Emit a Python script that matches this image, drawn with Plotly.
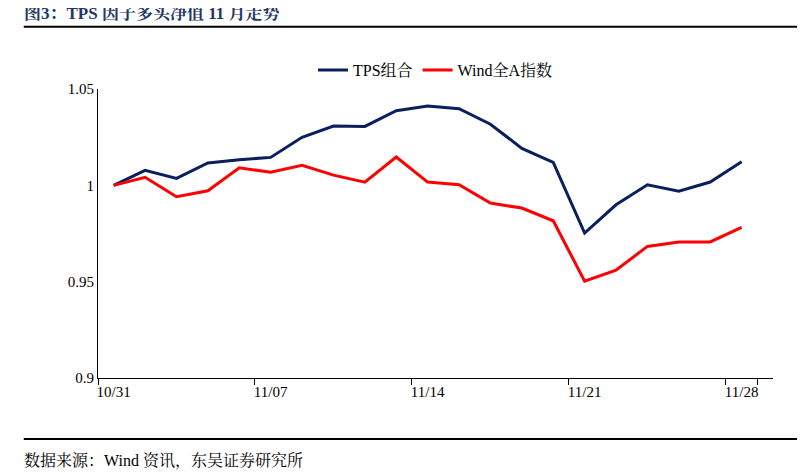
import plotly.graph_objects as go

dates = ["10/31","11/01","11/02","11/03","11/04","11/07","11/08","11/09","11/10","11/11",
         "11/14","11/15","11/16","11/17","11/18","11/21","11/22","11/23","11/24","11/25","11/28"]
tps = [1.000,1.0078,1.0036,1.0116,1.0133,1.0145,1.0249,1.0308,1.0306,1.0387,1.0412,1.0398,
       1.0317,1.0192,1.0119,0.9752,0.9899,1.0003,0.9969,1.0017,1.0123]
wind = [1.000,1.0042,0.9941,0.9972,1.0091,1.0068,1.0104,1.0053,1.0016,1.0147,1.0017,1.0003,
        0.9908,0.9882,0.9816,0.9503,0.9560,0.9683,0.9706,0.9706,0.9782]
tick_labels = ["10/31","11/07","11/14","11/21","11/28"]
yticks = [0.9, 0.95, 1.0, 1.05]
ytick_text = ["0.9", "0.95", "1", "1.05"]

font = "Times New Roman, Liberation Serif, Noto Serif CJK SC, Noto Sans CJK SC, serif"
fig = go.Figure()
fig.add_trace(go.Scatter(x=dates, y=tps, mode="lines", name="TPS组合",
                         line=dict(color="#0a1f5c", width=3)))
fig.add_trace(go.Scatter(x=dates, y=wind, mode="lines", name="Wind全A指数",
                         line=dict(color="#ff0000", width=3)))
fig.update_layout(
    width=805, height=476, paper_bgcolor="white", plot_bgcolor="white",
    margin=dict(l=90, r=40, t=81, b=106),
    font=dict(family=font, size=15, color="black"),
    legend=dict(orientation="h", x=0.5, xanchor="center", y=1.065, yanchor="middle",
                font=dict(size=16)),
    xaxis=dict(type="category", tickmode="array", tickvals=tick_labels, ticktext=tick_labels,
               tickson="boundaries", ticks="outside", ticklen=6, tickcolor="black",
               tickangle=0, showline=True, linecolor="black", linewidth=1, showgrid=False,
               range=[-0.5, 21.0]),
    yaxis=dict(range=[0.9, 1.05], tickvals=yticks, ticktext=ytick_text,
               showline=True, linecolor="black", linewidth=1, showgrid=False,
               ticks="", zeroline=False),
    shapes=[
        dict(type="line", xref="paper", yref="paper", x0=-0.11, x1=1.05, y0=1.215, y1=1.215,
             line=dict(color="black", width=2)),
        dict(type="line", xref="paper", yref="paper", x0=-0.11, x1=1.05, y0=-0.211, y1=-0.211,
             line=dict(color="black", width=2)),
    ],
    annotations=[
        dict(text="<b>图3：TPS 因子多头净值 11 月走势</b>", xref="paper", yref="paper",
             x=-0.112, y=1.262, xanchor="left", yanchor="middle", showarrow=False,
             font=dict(size=17, color="#1f3864")),
        dict(text="数据来源：Wind 资讯，东吴证券研究所", xref="paper", yref="paper",
             x=-0.112, y=-0.287, xanchor="left", yanchor="middle", showarrow=False,
             font=dict(size=16)),
    ],
)
fig.write_html("out.html")
